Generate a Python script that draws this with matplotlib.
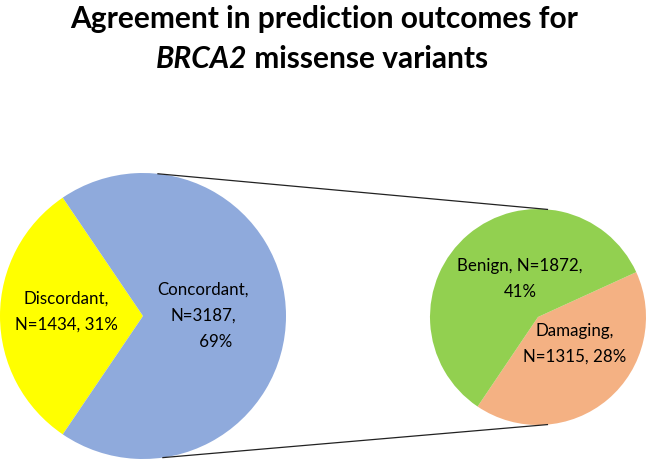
import numpy as np
import matplotlib.pyplot as plt

# ── DATA ──
main_labels = ['Discordant', 'Concordant']
main_counts = [1434, 3187]
split_labels = ['Damaging', 'Benign']
split_counts = [1315, 1872]
main_colors = ['#ffff00', '#8faadc']
split_colors = ['#f4b183', '#92d050']

total = sum(main_counts)
W, H = 646, 461

plt.rcParams['font.family'] = ['Lato', 'DejaVu Sans']

fig = plt.figure(figsize=(W / 100, H / 100), dpi=100)
ax = fig.add_axes([0, 0, 1, 1])

# ── PIES (axes units = pixels, y up) ──
big_c, big_r = (143, H - 316), 143
small_c, small_r = (538, H - 317), 108

disc_frac = main_counts[0] / total
ax.pie(main_counts, colors=main_colors, startangle=180 - disc_frac * 180,
       center=big_c, radius=big_r)
ax.pie(split_counts, colors=split_colors, startangle=236,
       center=small_c, radius=small_r)

# connector lines between the two pies
for a_big, a_small in [(84, 85), (-82, -85)]:
    x0 = big_c[0] + big_r * np.cos(np.radians(a_big))
    y0 = big_c[1] + big_r * np.sin(np.radians(a_big))
    x1 = small_c[0] + small_r * np.cos(np.radians(a_small))
    y1 = small_c[1] + small_r * np.sin(np.radians(a_small))
    ax.plot([x0, x1], [y0, y1], color='#222222', lw=0.9)

ax.set_xlim(0, W)
ax.set_ylim(0, H)
ax.set_aspect('equal')
ax.axis('off')

# ── LABELS (positions = baseline of last line) ──
pct = lambda n: f'{n / total * 100:.0f}%'
fs = 12.2
ls = 1.8
ax.text(66, H - 330, f'{main_labels[0]},\nN={main_counts[0]}, {pct(main_counts[0])}',
        ha='center', va='baseline', fontsize=fs, linespacing=ls)
ax.text(203, H - 347, f'{main_labels[1]},\nN={main_counts[1]},\n      {pct(main_counts[1])}',
        ha='center', va='baseline', fontsize=fs, linespacing=ls)
ax.text(520, H - 297, f'{split_labels[1]}, N={split_counts[1]},\n{pct(split_counts[1])}',
        ha='center', va='baseline', fontsize=fs, linespacing=ls)
ax.text(575, H - 362, f'{split_labels[0]},\nN={split_counts[0]}, {pct(split_counts[0])}',
        ha='center', va='baseline', fontsize=fs, linespacing=ls)

# ── TITLE ──
tfs = 21.5
ax.text(324, H - 28, 'Agreement in prediction outcomes for', ha='center',
        va='baseline', fontsize=tfs, fontweight='bold')
r = fig.canvas.get_renderer()
t1 = ax.text(0, H - 68, 'BRCA2', ha='left', va='baseline', fontsize=tfs,
             fontweight='bold', fontstyle='italic')
t2 = ax.text(0, H - 68, ' missense variants', ha='left', va='baseline',
             fontsize=tfs, fontweight='bold')
w1 = t1.get_window_extent(r).width
w2 = t2.get_window_extent(r).width
x_start = 322 - (w1 + w2) / 2
t1.set_x(x_start)
t2.set_x(x_start + w1)

fig.savefig('out.png', dpi=100)
